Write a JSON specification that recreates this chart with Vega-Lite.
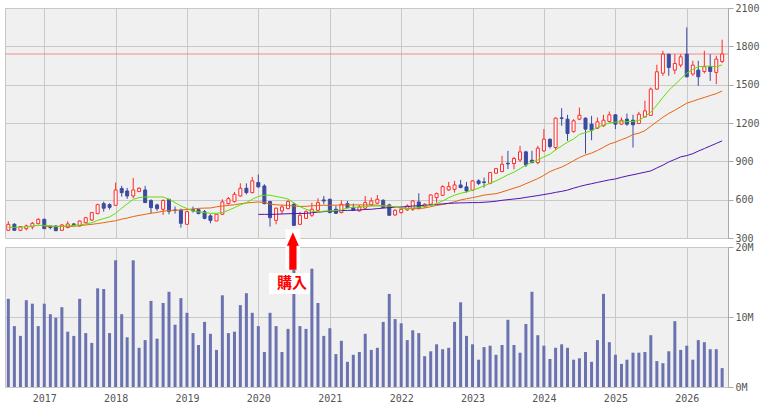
{
  "$schema": "https://vega.github.io/schema/vega-lite/v6.json",
  "background": "white",
  "padding": {"left": 4, "top": 2, "right": 0, "bottom": 0},
  "spacing": 9,
  "bounds": "flush",
  "config": {
    "view": {"fill": "#f0f0f0", "stroke": "#c8c8c8"},
    "axis": {"gridColor": "#c8c8c8", "gridWidth": 1, "domainColor": "#aaaaaa", "tickColor": "#aaaaaa", "labelFont": "DejaVu Sans Mono", "labelFontSize": 10, "labelColor": "#555555", "title": null, "labelOverlap": false}
  },
  "datasets": {
    "m": [
      {"d":"2016-07-01","o":360,"h":431,"l":360,"c":407,"v":12.6,"g":384},
      {"d":"2016-08-01","o":407,"h":417,"l":360,"c":360,"v":8.7,"g":384},
      {"d":"2016-09-01","o":360,"h":394,"l":355,"c":389,"v":7.3,"g":384},
      {"d":"2016-10-01","o":373,"h":405,"l":360,"c":394,"v":12.4,"g":389},
      {"d":"2016-11-01","o":386,"h":425,"l":368,"c":415,"v":11.9,"g":394},
      {"d":"2016-12-01","o":412,"h":454,"l":407,"c":446,"v":8.7,"g":399},
      {"d":"2017-01-01","o":446,"h":452,"l":373,"c":373,"v":11.9,"g":399,"r":391},
      {"d":"2017-02-01","o":394,"h":394,"l":368,"c":381,"v":10.4,"g":394,"r":391},
      {"d":"2017-03-01","o":394,"h":399,"l":357,"c":357,"v":9.9,"g":391,"r":391},
      {"d":"2017-04-01","o":360,"h":410,"l":360,"c":402,"v":11.4,"g":391,"r":391},
      {"d":"2017-05-01","o":381,"h":431,"l":378,"c":410,"v":7.9,"g":394,"r":391},
      {"d":"2017-06-01","o":410,"h":417,"l":394,"c":405,"v":7.3,"g":399,"r":391},
      {"d":"2017-07-01","o":394,"h":438,"l":389,"c":433,"v":12.6,"g":402,"r":397},
      {"d":"2017-08-01","o":420,"h":465,"l":415,"c":459,"v":7.7,"g":410,"r":402},
      {"d":"2017-09-01","o":441,"h":504,"l":433,"c":499,"v":6.3,"g":420,"r":407},
      {"d":"2017-10-01","o":491,"h":567,"l":486,"c":561,"v":14.1,"g":438,"r":413},
      {"d":"2017-11-01","o":569,"h":585,"l":506,"c":533,"v":14.0,"g":452,"r":420},
      {"d":"2017-12-01","o":561,"h":572,"l":522,"c":540,"v":7.7,"g":465,"r":428},
      {"d":"2018-01-01","o":556,"h":734,"l":551,"c":676,"v":18.1,"g":493,"r":435},
      {"d":"2018-02-01","o":687,"h":708,"l":624,"c":655,"v":10.4,"g":533,"r":448},
      {"d":"2018-03-01","o":668,"h":692,"l":606,"c":629,"v":7.1,"g":566,"r":456},
      {"d":"2018-04-01","o":629,"h":770,"l":611,"c":676,"v":18.1,"g":603,"r":468},
      {"d":"2018-05-01","o":663,"h":697,"l":660,"c":689,"v":5.6,"g":616,"r":477},
      {"d":"2018-06-01","o":676,"h":708,"l":577,"c":577,"v":6.7,"g":621,"r":485},
      {"d":"2018-07-01","o":593,"h":603,"l":493,"c":538,"v":12.3,"g":621,"r":494},
      {"d":"2018-08-01","o":559,"h":569,"l":512,"c":530,"v":6.9,"g":621,"r":500},
      {"d":"2018-09-01","o":525,"h":603,"l":480,"c":593,"v":12.0,"g":621,"r":510},
      {"d":"2018-10-01","o":603,"h":603,"l":486,"c":509,"v":13.6,"g":603,"r":515},
      {"d":"2018-11-01","o":519,"h":546,"l":491,"c":517,"v":8.9,"g":577,"r":517},
      {"d":"2018-12-01","o":519,"h":530,"l":381,"c":415,"v":12.7,"g":551,"r":519},
      {"d":"2019-01-01","o":407,"h":512,"l":407,"c":506,"v":10.6,"g":530,"r":523},
      {"d":"2019-02-01","o":522,"h":546,"l":499,"c":512,"v":7.7,"g":512,"r":527},
      {"d":"2019-03-01","o":522,"h":530,"l":486,"c":491,"v":6.0,"g":504,"r":532},
      {"d":"2019-04-01","o":506,"h":519,"l":446,"c":454,"v":9.3,"g":499,"r":534},
      {"d":"2019-05-01","o":473,"h":486,"l":415,"c":438,"v":7.6,"g":493,"r":535},
      {"d":"2019-06-01","o":433,"h":486,"l":433,"c":486,"v":5.3,"g":493,"r":544},
      {"d":"2019-07-01","o":486,"h":603,"l":480,"c":582,"v":13.1,"g":499,"r":550},
      {"d":"2019-08-01","o":569,"h":621,"l":561,"c":608,"v":7.7,"g":517,"r":555},
      {"d":"2019-09-01","o":585,"h":660,"l":577,"c":642,"v":7.9,"g":538,"r":560},
      {"d":"2019-10-01","o":629,"h":728,"l":624,"c":689,"v":11.7,"g":559,"r":568},
      {"d":"2019-11-01","o":689,"h":728,"l":642,"c":655,"v":13.4,"g":577,"r":574},
      {"d":"2019-12-01","o":655,"h":778,"l":650,"c":747,"v":10.6,"g":603,"r":578},
      {"d":"2020-01-01","o":734,"h":797,"l":694,"c":700,"v":8.7,"g":625,"r":582,"u":485},
      {"d":"2020-02-01","o":707,"h":721,"l":564,"c":569,"v":5.0,"g":635,"r":578,"u":485},
      {"d":"2020-03-01","o":585,"h":590,"l":389,"c":459,"v":10.6,"g":635,"r":565,"u":485},
      {"d":"2020-04-01","o":438,"h":538,"l":407,"c":533,"v":8.7,"g":625,"r":560,"u":486},
      {"d":"2020-05-01","o":512,"h":559,"l":486,"c":543,"v":5.0,"g":616,"r":557,"u":488},
      {"d":"2020-06-01","o":530,"h":595,"l":525,"c":585,"v":8.3,"g":605,"r":556,"u":490},
      {"d":"2020-07-01","o":564,"h":577,"l":394,"c":399,"v":17.5,"g":575,"r":550,"u":491},
      {"d":"2020-08-01","o":407,"h":504,"l":402,"c":478,"v":8.7,"g":545,"r":547,"u":492},
      {"d":"2020-09-01","o":454,"h":517,"l":449,"c":506,"v":8.3,"g":525,"r":548,"u":493},
      {"d":"2020-10-01","o":478,"h":577,"l":465,"c":525,"v":16.9,"g":510,"r":552,"u":497},
      {"d":"2020-11-01","o":517,"h":611,"l":506,"c":577,"v":12.0,"g":504,"r":555,"u":502},
      {"d":"2020-12-01","o":598,"h":629,"l":564,"c":590,"v":7.3,"g":510,"r":556,"u":506},
      {"d":"2021-01-01","o":603,"h":608,"l":493,"c":499,"v":8.4,"g":512,"r":556,"u":510},
      {"d":"2021-02-01","o":525,"h":551,"l":491,"c":493,"v":4.7,"g":515,"r":557,"u":512},
      {"d":"2021-03-01","o":499,"h":595,"l":493,"c":564,"v":6.6,"g":520,"r":558,"u":514},
      {"d":"2021-04-01","o":569,"h":590,"l":533,"c":538,"v":3.6,"g":535,"r":559,"u":516},
      {"d":"2021-05-01","o":538,"h":569,"l":512,"c":517,"v":4.6,"g":540,"r":559,"u":517},
      {"d":"2021-06-01","o":512,"h":559,"l":506,"c":543,"v":5.0,"g":543,"r":559,"u":520},
      {"d":"2021-07-01","o":533,"h":629,"l":525,"c":577,"v":7.6,"g":546,"r":559,"u":523},
      {"d":"2021-08-01","o":559,"h":616,"l":551,"c":590,"v":5.3,"g":550,"r":558,"u":525},
      {"d":"2021-09-01","o":572,"h":637,"l":564,"c":603,"v":5.6,"g":551,"r":556,"u":530},
      {"d":"2021-10-01","o":595,"h":603,"l":533,"c":538,"v":9.3,"g":551,"r":553,"u":534},
      {"d":"2021-11-01","o":559,"h":569,"l":473,"c":478,"v":13.3,"g":551,"r":548,"u":538},
      {"d":"2021-12-01","o":480,"h":525,"l":475,"c":517,"v":9.7,"g":540,"r":543,"u":540},
      {"d":"2022-01-01","o":499,"h":533,"l":491,"c":525,"v":9.1,"g":535,"r":535,"u":543},
      {"d":"2022-02-01","o":520,"h":564,"l":512,"c":551,"v":6.7,"g":530,"r":532,"u":546},
      {"d":"2022-03-01","o":525,"h":598,"l":512,"c":590,"v":8.1,"g":535,"r":530,"u":550},
      {"d":"2022-04-01","o":582,"h":650,"l":525,"c":530,"v":7.7,"g":540,"r":530,"u":553},
      {"d":"2022-05-01","o":546,"h":572,"l":538,"c":564,"v":4.4,"g":548,"r":535,"u":556},
      {"d":"2022-06-01","o":564,"h":642,"l":559,"c":637,"v":5.1,"g":555,"r":545,"u":559},
      {"d":"2022-07-01","o":616,"h":655,"l":577,"c":648,"v":6.1,"g":570,"r":555,"u":563},
      {"d":"2022-08-01","o":634,"h":713,"l":629,"c":702,"v":5.4,"g":590,"r":562,"u":567},
      {"d":"2022-09-01","o":676,"h":739,"l":668,"c":702,"v":5.6,"g":615,"r":572,"u":571},
      {"d":"2022-10-01","o":681,"h":747,"l":655,"c":715,"v":9.3,"g":635,"r":583,"u":573},
      {"d":"2022-11-01","o":715,"h":755,"l":689,"c":695,"v":12.1,"g":650,"r":598,"u":575},
      {"d":"2022-12-01","o":700,"h":739,"l":655,"c":668,"v":7.3,"g":660,"r":607,"u":576},
      {"d":"2023-01-01","o":674,"h":752,"l":668,"c":747,"v":6.1,"g":674,"r":616,"u":577},
      {"d":"2023-02-01","o":747,"h":760,"l":715,"c":726,"v":3.9,"g":690,"r":626,"u":577},
      {"d":"2023-03-01","o":739,"h":773,"l":695,"c":734,"v":5.7,"g":708,"r":636,"u":580},
      {"d":"2023-04-01","o":728,"h":817,"l":721,"c":812,"v":5.9,"g":728,"r":642,"u":583},
      {"d":"2023-05-01","o":807,"h":846,"l":804,"c":843,"v":4.6,"g":747,"r":647,"u":588},
      {"d":"2023-06-01","o":820,"h":943,"l":815,"c":877,"v":6.0,"g":770,"r":660,"u":595},
      {"d":"2023-07-01","o":885,"h":982,"l":840,"c":880,"v":9.6,"g":795,"r":675,"u":600},
      {"d":"2023-08-01","o":883,"h":935,"l":838,"c":922,"v":6.0,"g":815,"r":690,"u":605},
      {"d":"2023-09-01","o":911,"h":1021,"l":896,"c":974,"v":4.9,"g":843,"r":705,"u":610},
      {"d":"2023-10-01","o":974,"h":982,"l":856,"c":872,"v":9.0,"g":870,"r":725,"u":618},
      {"d":"2023-11-01","o":909,"h":982,"l":885,"c":890,"v":13.6,"g":895,"r":745,"u":625},
      {"d":"2023-12-01","o":890,"h":1021,"l":877,"c":1003,"v":7.4,"g":910,"r":765,"u":632},
      {"d":"2024-01-01","o":982,"h":1152,"l":974,"c":1073,"v":5.9,"g":935,"r":790,"u":640},
      {"d":"2024-02-01","o":1073,"h":1078,"l":1000,"c":1016,"v":4.0,"g":955,"r":820,"u":648},
      {"d":"2024-03-01","o":1008,"h":1243,"l":987,"c":1238,"v":5.6,"g":990,"r":838,"u":657},
      {"d":"2024-04-01","o":1240,"h":1316,"l":1178,"c":1236,"v":6.1,"g":1020,"r":855,"u":665},
      {"d":"2024-05-01","o":1230,"h":1264,"l":1060,"c":1118,"v":5.6,"g":1050,"r":878,"u":675},
      {"d":"2024-06-01","o":1133,"h":1230,"l":1125,"c":1217,"v":3.9,"g":1075,"r":905,"u":690},
      {"d":"2024-07-01","o":1230,"h":1321,"l":1222,"c":1261,"v":4.1,"g":1110,"r":930,"u":703},
      {"d":"2024-08-01","o":1238,"h":1243,"l":961,"c":1152,"v":5.0,"g":1125,"r":950,"u":715},
      {"d":"2024-09-01","o":1191,"h":1256,"l":1065,"c":1144,"v":3.6,"g":1140,"r":965,"u":725},
      {"d":"2024-10-01","o":1160,"h":1243,"l":1152,"c":1209,"v":6.7,"g":1165,"r":985,"u":735},
      {"d":"2024-11-01","o":1178,"h":1264,"l":1170,"c":1222,"v":13.3,"g":1185,"r":1010,"u":745},
      {"d":"2024-12-01","o":1212,"h":1290,"l":1204,"c":1264,"v":6.4,"g":1200,"r":1035,"u":755},
      {"d":"2025-01-01","o":1264,"h":1269,"l":1152,"c":1191,"v":4.6,"g":1207,"r":1050,"u":762},
      {"d":"2025-02-01","o":1191,"h":1243,"l":1186,"c":1222,"v":3.3,"g":1210,"r":1070,"u":775},
      {"d":"2025-03-01","o":1230,"h":1274,"l":1178,"c":1191,"v":3.9,"g":1210,"r":1085,"u":785},
      {"d":"2025-04-01","o":1222,"h":1264,"l":1008,"c":1186,"v":4.9,"g":1212,"r":1110,"u":795},
      {"d":"2025-05-01","o":1196,"h":1287,"l":1191,"c":1269,"v":4.9,"g":1220,"r":1120,"u":805},
      {"d":"2025-06-01","o":1248,"h":1374,"l":1243,"c":1295,"v":5.0,"g":1250,"r":1140,"u":815},
      {"d":"2025-07-01","o":1260,"h":1478,"l":1256,"c":1465,"v":7.4,"g":1285,"r":1175,"u":825},
      {"d":"2025-08-01","o":1465,"h":1656,"l":1460,"c":1601,"v":3.7,"g":1340,"r":1210,"u":848},
      {"d":"2025-09-01","o":1590,"h":1765,"l":1569,"c":1739,"v":3.4,"g":1400,"r":1245,"u":870},
      {"d":"2025-10-01","o":1739,"h":1739,"l":1569,"c":1635,"v":5.1,"g":1455,"r":1275,"u":895},
      {"d":"2025-11-01","o":1614,"h":1739,"l":1583,"c":1666,"v":9.4,"g":1500,"r":1300,"u":915},
      {"d":"2025-12-01","o":1653,"h":1739,"l":1635,"c":1718,"v":5.3,"g":1545,"r":1327,"u":935},
      {"d":"2026-01-01","o":1739,"h":1948,"l":1556,"c":1562,"v":5.9,"g":1590,"r":1355,"u":945},
      {"d":"2026-02-01","o":1583,"h":1687,"l":1569,"c":1653,"v":3.9,"g":1620,"r":1370,"u":960},
      {"d":"2026-03-01","o":1614,"h":1687,"l":1491,"c":1562,"v":6.7,"g":1640,"r":1385,"u":980},
      {"d":"2026-04-01","o":1603,"h":1765,"l":1588,"c":1640,"v":6.4,"g":1645,"r":1400,"u":1000},
      {"d":"2026-05-01","o":1640,"h":1739,"l":1530,"c":1603,"v":5.4,"g":1645,"r":1415,"u":1020},
      {"d":"2026-06-01","o":1596,"h":1726,"l":1504,"c":1700,"v":5.4,"g":1640,"r":1430,"u":1040},
      {"d":"2026-07-01","o":1682,"h":1852,"l":1669,"c":1740,"v":2.7,"g":1655,"r":1450,"u":1060}
    ]
  },
  "vconcat": [
    {
      "width": 723,
      "height": 230,
      "encoding": {
        "x": {"field": "d", "type": "temporal",
              "scale": {"type": "utc", "padding": 0, "domain": [{"year": 2016, "month": 6, "date": 14, "utc": true}, {"year": 2026, "month": 7, "date": 31, "utc": true}]},
              "axis": {"orient": "bottom", "labels": false, "ticks": false, "domain": false, "grid": true, "tickCount": {"interval": "year", "step": 1}}}
      },
      "layer": [
        {
          "data": {"values": [{"p": 1740}]},
          "mark": {"type": "rule", "color": "#f28a8a", "strokeWidth": 1},
          "encoding": {"x": null,
            "y": {"field": "p", "type": "quantitative",
                  "scale": {"domain": [300, 2100], "zero": false, "nice": false, "padding": 0},
                  "axis": {"orient": "right", "values": [300, 600, 900, 1200, 1500, 1800, 2100], "tickCount": 7, "labelOverlap": false, "format": "d", "grid": true, "tickSize": 5, "labelPadding": 2, "domain": true}}}
        },
        {
          "data": {"name": "m"},
          "mark": {"type": "rule", "strokeWidth": 1},
          "encoding": {
            "y": {"field": "l", "type": "quantitative"},
            "y2": {"field": "h"},
            "color": {"condition": {"test": "datum.c >= datum.o", "value": "#ff2a2a"}, "value": "#3b4b9f"}
          }
        },
        {
          "data": {"name": "m"},
          "mark": {"type": "bar", "orient": "vertical", "size": 3, "strokeWidth": 1},
          "encoding": {
            "y": {"field": "o", "type": "quantitative"},
            "y2": {"field": "c"},
            "fill": {"condition": {"test": "datum.c >= datum.o", "value": "#ffffff"}, "value": "#3b4b9f"},
            "stroke": {"condition": {"test": "datum.c >= datum.o", "value": "#ff2a2a"}, "value": "#3b4b9f"}
          }
        },
        {
          "data": {"name": "m"},
          "mark": {"type": "line", "color": "#e8650f", "strokeWidth": 1},
          "encoding": {"y": {"field": "r", "type": "quantitative"}}
        },
        {
          "data": {"name": "m"},
          "mark": {"type": "line", "color": "#5312b3", "strokeWidth": 1},
          "encoding": {"y": {"field": "u", "type": "quantitative"}}
        },
        {
          "data": {"name": "m"},
          "mark": {"type": "line", "color": "#5fe000", "strokeWidth": 1},
          "encoding": {"y": {"field": "g", "type": "quantitative"}}
        }
      ]
    },
    {
      "width": 723,
      "height": 140,
      "encoding": {
        "x": {"field": "d", "type": "temporal",
              "scale": {"type": "utc", "padding": 0, "domain": [{"year": 2016, "month": 6, "date": 14, "utc": true}, {"year": 2026, "month": 7, "date": 31, "utc": true}]},
              "axis": {"orient": "bottom", "format": "%Y", "labels": true, "ticks": false, "domain": false, "grid": true, "labelFlush": false, "labelPadding": 6, "tickCount": {"interval": "year", "step": 1}}}
      },
      "layer": [
        {
          "data": {"name": "m"},
          "mark": {"type": "bar", "orient": "vertical", "size": 3, "color": "#6b72b0"},
          "encoding": {
            "y": {"field": "v", "type": "quantitative",
                  "scale": {"domain": [0, 20], "nice": false, "padding": 0},
                  "axis": {"orient": "right", "values": [0, 10, 20], "labelExpr": "datum.value + 'M'", "grid": true, "tickSize": 5, "labelPadding": 2, "domain": true}}
          }
        },
        {
          "data": {"values": [{"d": "2020-07-01", "a": 19.66}]},
          "mark": {"type": "point", "shape": "M-0.36,-1L0.36,-1L0.36,1L-0.36,1Z", "size": 1656, "filled": true, "fill": "#ffffff", "opacity": 1, "strokeWidth": 0, "xOffset": -1},
          "encoding": {"y": {"field": "a", "type": "quantitative"}}
        },
        {
          "data": {"values": [{"d": "2020-07-01", "a": 19.43}]},
          "mark": {"type": "point", "shape": "M0,-1L0.32,-0.28L0.195,-0.28L0.195,1L-0.195,1L-0.195,-0.28L-0.32,-0.28Z", "size": 1399, "filled": true, "fill": "#ff0000", "opacity": 1, "strokeWidth": 0, "xOffset": -1},
          "encoding": {"y": {"field": "a", "type": "quantitative"}}
        },
        {
          "data": {"values": [{"d": "2020-07-01", "a": 14.79}]},
          "mark": {"type": "point", "shape": "M-1,-0.516L1,-0.516L1,0.516L-1,0.516Z", "size": 1656, "filled": true, "fill": "#ffffff", "opacity": 1, "strokeWidth": 0, "xOffset": -4.5},
          "encoding": {"y": {"field": "a", "type": "quantitative"}}
        },
        {
          "data": {"values": [{"d": "2020-07-01", "a": 14.79, "t": "購入"}]},
          "mark": {"type": "text", "font": "Noto Sans CJK JP", "fontWeight": "bold", "fontSize": 15, "color": "#ff0000", "baseline": "middle", "align": "center", "xOffset": -2},
          "encoding": {"y": {"field": "a", "type": "quantitative"}, "text": {"field": "t"}}
        }
      ]
    }
  ]
}
